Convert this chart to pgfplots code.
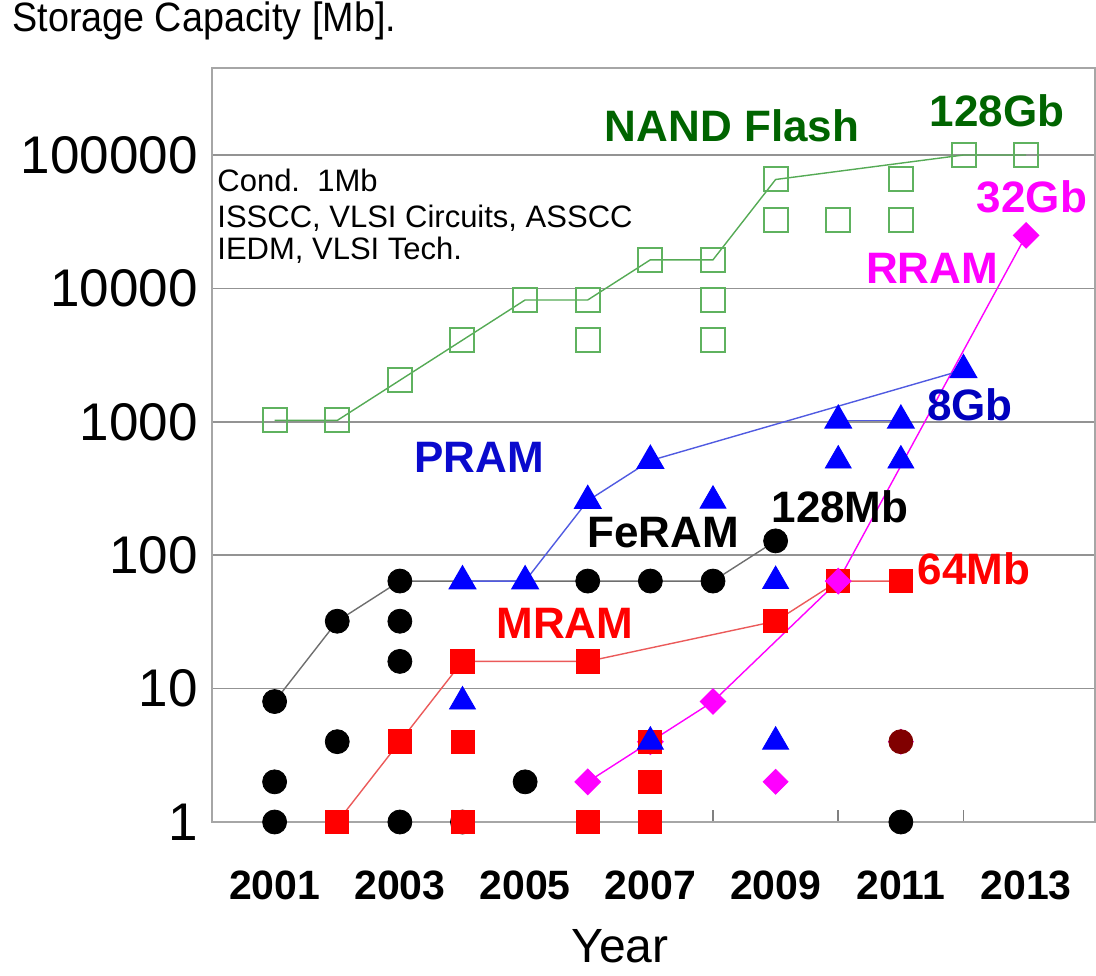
\documentclass[border=0pt]{standalone}
\usepackage{fontspec}
\setmainfont{Liberation Sans}
\usepackage{pgfplots}
\pgfplotsset{compat=1.18}
\definecolor{nandmk}{RGB}{95,178,95}
\definecolor{nandln}{RGB}{85,170,85}
\definecolor{dkgreen}{RGB}{0,100,0}
\definecolor{pramln}{RGB}{80,90,225}
\definecolor{pramlab}{RGB}{0,0,190}
\definecolor{pramlab2}{RGB}{10,10,205}
\definecolor{feln}{RGB}{110,110,110}
\definecolor{mramln}{RGB}{235,90,90}
\definecolor{maroonc}{RGB}{128,0,0}
\definecolor{mag}{RGB}{255,0,255}
\definecolor{mramred}{RGB}{255,0,0}
\definecolor{pblue}{RGB}{0,0,255}
\begin{document}
\begin{tikzpicture}
\useasboundingbox (-106pt,-76.5pt) rectangle (442pt,411pt);
\begin{axis}[
  at={(0,0)}, anchor=south west,
  scale only axis, width=441.5pt, height=377pt,
  ymode=log, ymin=1, ymax=449000, xmin=2000, xmax=2014.1,
  clip=false,
  ytick={1,10,100,1000,10000,100000},
  yticklabels={1,10,100,1000,10000,100000},
  yticklabel style={font=\fontsize{26.5}{30}\selectfont, inner sep=0pt, xshift=-7pt},
  yminorticks=false,
  ymajorgrids, major grid style={gray!85, line width=0.8pt},
  xtick={2001,2003,...,2013},
  xticklabels={2001,2003,2005,2007,2009,2011,2013},
  xticklabel style={font=\fontsize{20.5}{24}\selectfont\bfseries, yshift=-21pt},
  minor xtick={2002,2004,...,2012},
  major tick length=0pt, minor tick length=6pt,
  tick align=inside, xtick pos=bottom, ytick pos=left,
  minor tick style={gray, line width=0.8pt},
  axis line style={gray!70, line width=0.8pt},
]
% NAND Flash
\addplot[nandln, line width=0.7pt, mark=square, mark size=6pt,
  mark options={nandmk, line width=1pt, fill=white}]
  coordinates {(2001,1024)(2002,1024)(2003,2048)(2004,4096)(2005,8192)(2006,8192)
  (2007,16384)(2008,16384)(2009,65536)(2012,100000)(2013,100000)};
\addplot[only marks, mark=square, mark size=6pt,
  mark options={nandmk, line width=1pt, fill=white}]
  coordinates {(2006,4096)(2008,8192)(2008,4096)(2009,32768)(2010,32768)
  (2011,65536)(2011,32768)};
% FeRAM
\addplot[feln, line width=0.7pt, no marks]
  coordinates {(2001,8)(2002,32)(2003,64)(2008,64)(2009,128)};
\addplot[only marks, mark=*, mark size=6pt, mark options={black}]
  coordinates {(2001,8)(2001,2)(2001,1)(2002,32)(2002,4)(2003,64)(2003,32)
  (2003,16)(2003,1)(2004,1)(2005,2)(2006,64)(2007,64)(2008,64)(2009,128)(2011,1)};
% RRAM
\addplot[mag, line width=0.7pt, mark=square*, mark size=4.4pt,
  mark options={mag, rotate=45}]
  coordinates {(2006,2)(2007,4)(2008,8)(2010,64)(2013,25000)};
\addplot[only marks, mark=square*, mark size=4.4pt, mark options={mag, rotate=45}]
  coordinates {(2009,2)(2011,4)};
% MRAM
\addplot[mramln, line width=0.7pt, mark=square*, mark size=5.75pt,
  mark options={mramred}]
  coordinates {(2002,1)(2003,4)(2004,16)(2006,16)(2009,32)(2010,64)(2011,64)};
\addplot[only marks, mark=square*, mark size=5.75pt, mark options={mramred}]
  coordinates {(2004,4)(2004,1)(2006,1)(2007,4)(2007,2)(2007,1)};
\addplot[only marks, mark=square*, mark size=4.4pt, mark options={mag, rotate=45}]
  coordinates {(2010,64)};
% PRAM
\addplot[pramln, line width=0.7pt, mark=triangle*, mark size=7.5pt,
  mark options={pblue}]
  coordinates {(2004,64)(2005,64)(2006,256)(2007,512)(2012,2450)};
\addplot[pramln, line width=0.7pt, mark=triangle*, mark size=7.5pt,
  mark options={pblue}]
  coordinates {(2010,1024)(2011,1024)};
\addplot[only marks, mark=triangle*, mark size=7.5pt, mark options={pblue}]
  coordinates {(2004,8)(2007,4)(2008,256)(2009,64)(2009,4)(2010,512)(2011,512)};
% special
\addplot[only marks, mark=*, mark size=6pt, mark options={maroonc}]
  coordinates {(2011,4)};
\end{axis}
% labels (1px = 0.5pt, origin at axis lower left)
\begin{scope}[x=1pt, y=1pt]
\begin{scope}[every node/.style={inner sep=0pt, font=\fontsize{22}{26}\selectfont\bfseries}]
\node[text=dkgreen] at (260,348) {NAND Flash};
\node[text=dkgreen] at (392.5,355.5) {128Gb};
\node[text=mag] at (410,312.5) {32Gb};
\node[text=mag] at (360,277) {RRAM};
\node[text=pramlab] at (379,208.5) {8Gb};
\node[text=pramlab2] at (133.5,182.5) {PRAM};
\node[text=black] at (225.5,144.5) {FeRAM};
\node[text=black] at (314,157.5) {128Mb};
\node[text=mramred] at (381,126.5) {64Mb};
\node[text=mramred] at (176.5,99.5) {MRAM};
\end{scope}
\begin{scope}[every node/.style={inner sep=0pt, anchor=base west, font=\fontsize{15.5}{18}\selectfont}]
\node at (2.5,315) {Cond.\ \ 1Mb};
\node at (2.5,297) {ISSCC, VLSI Circuits, ASSCC};
\node at (2.5,281) {IEDM, VLSI Tech.};
\end{scope}
\node[inner sep=0pt, anchor=base west, font=\fontsize{20.5}{24}\selectfont] at (-100,395) {\scalebox{0.92}[1]{Storage Capacity [Mb].}};
\node[inner sep=0pt, anchor=base, font=\fontsize{24}{28}\selectfont] at (204,-70) {Year};
\end{scope}
\end{tikzpicture}
\end{document}
